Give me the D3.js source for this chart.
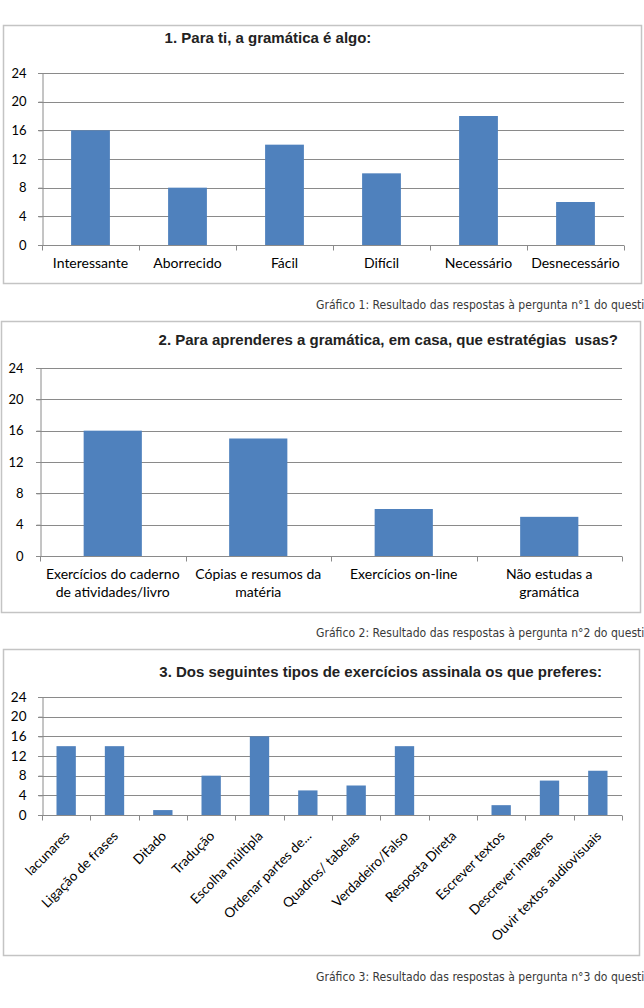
<!DOCTYPE html>
<html><head><meta charset="utf-8">
<script src="https://cdn.jsdelivr.net/npm/d3@7"></script>
<style>
body{margin:0;background:#fff;}
svg{display:block;}
</style></head>
<body>
<svg id="c" width="644" height="1008"></svg>
<script>
// ---- data ----
const title1 = "1. Para ti, a gramática é algo:";
const categories1 = ["Interessante","Aborrecido","Fácil","Difícil","Necessário","Desnecessário"];
const values1 = [16, 8, 14, 10, 18, 6];

const title2 = "2. Para aprenderes a gramática, em casa, que estratégias  usas?";
const categories2 = [["Exercícios do caderno","de atividades/livro"],["Cópias e resumos da","matéria"],["Exercícios on-line"],["Não estudas a","gramática"]];
const values2 = [16, 15, 6, 5];

const title3 = "3. Dos seguintes tipos de exercícios assinala os que preferes:";
const categories3 = ["lacunares","Ligação de frases","Ditado","Tradução","Escolha múltipla","Ordenar partes de...","Quadros/ tabelas","Verdadeiro/Falso","Resposta Direta","Escrever textos","Descrever imagens","Ouvir textos audiovisuais"];
const values3 = [14, 14, 1, 8, 16, 5, 6, 14, 0, 2, 7, 9];

const yTicks = [0, 4, 8, 12, 16, 20, 24];
const captions = [
  "Gráfico 1: Resultado das respostas à pergunta n°1 do questionário",
  "Gráfico 2: Resultado das respostas à pergunta n°2 do questionário",
  "Gráfico 3: Resultado das respostas à pergunta n°3 do questionário"
];

// ---- drawing ----
const svg = d3.select("#c");
const BAR = "#4f81bd", GRID = "#8a8a8a", BORDER = "#c4c4c4";
const LF = "Lato, 'Open Sans', sans-serif";
const TF = "'Liberation Sans', Arial, sans-serif";
const CF = "'Liberation Sans Narrow', 'DejaVu Sans Condensed', sans-serif";

function chart(o){
  const g = svg.append("g");
  g.append("rect").attr("x",o.box[0]+0.5).attr("y",o.box[1]+0.5)
   .attr("width",o.box[2]-o.box[0]).attr("height",o.box[3]-o.box[1])
   .attr("fill","#fff").attr("stroke",BORDER).attr("stroke-width",1.5);
  g.append("text").attr("x",o.titleX).attr("y",o.titleY).attr("text-anchor",o.titleAnchor)
   .attr("font-family",TF).attr("font-weight","bold").attr("font-size",o.titleSize)
   .attr("fill","#222").style("white-space","pre").text(o.title);

  const x = d3.scaleBand().domain(d3.range(o.values.length)).range([o.left,o.right])
    .paddingInner(0.6).paddingOuter(0.3);
  const y = d3.scaleLinear().domain([0,24]).range([o.bottom,o.top]);

  // grid
  g.append("g").selectAll("line").data(yTicks).join("line")
   .attr("x1",o.left-4).attr("x2",o.right).attr("y1",d=>Math.round(y(d))+0.5).attr("y2",d=>Math.round(y(d))+0.5)
   .attr("stroke",GRID).attr("stroke-width",1);
  // y axis via d3
  const ya = g.append("g").attr("transform",`translate(${o.left+0.5},0)`)
   .call(d3.axisLeft(y).tickValues(yTicks).tickSize(4).tickPadding(o.yPad));
  ya.select(".domain").attr("stroke",GRID);
  ya.selectAll(".tick line").attr("stroke",GRID);
  ya.selectAll(".tick text").attr("font-family",LF).attr("font-size",o.ySize).attr("fill","#000");

  // bars
  g.append("g").selectAll("rect").data(o.values).join("rect")
   .attr("x",(d,i)=>x(i)).attr("width",x.bandwidth())
   .attr("y",d=>y(d)).attr("height",d=>y(0)-y(d)).attr("fill",BAR);

  // x axis line and category boundary ticks
  const step = x.step();
  const xb = Math.round(y(0))+0.5;
  g.append("line").attr("x1",o.left).attr("x2",o.right).attr("y1",xb).attr("y2",xb).attr("stroke",GRID);
  g.append("g").selectAll("line").data(d3.range(o.values.length+1)).join("line")
   .attr("x1",i=>Math.round(o.left+i*step)+0.5).attr("x2",i=>Math.round(o.left+i*step)+0.5)
   .attr("y1",xb).attr("y2",xb+5).attr("stroke",GRID);

  // category labels
  const lab = g.append("g").selectAll("text").data(o.categories).join("text")
   .attr("font-family",LF).attr("font-size",o.xSize).attr("fill","#000");
  if(o.rotate){
    lab.attr("text-anchor","end")
     .attr("transform",(d,i)=>`translate(${x(i)+x.bandwidth()/2+1},${xb+18}) rotate(-45)`)
     .attr("dy","0.35em").text(d=>d);
  } else {
    lab.attr("text-anchor","middle").each(function(d,i){
      const lines = Array.isArray(d)?d:[d];
      d3.select(this).selectAll("tspan").data(lines).join("tspan")
        .attr("x",x(i)+x.bandwidth()/2).attr("y",(l,j)=>o.labelY+j*o.lineH).text(l=>l);
    });
  }
}

chart({box:[3,25,641,283], title:title1, titleX:268, titleY:43, titleAnchor:"middle", titleSize:15,
  left:42, right:624, top:73, bottom:245, values:values1, categories:categories1,
  ySize:13, yPad:12, xSize:14, labelY:268, lineH:18});
chart({box:[1,321,640,612], title:title2, titleX:618, titleY:345, titleAnchor:"end", titleSize:15,
  left:40, right:622, top:368, bottom:556, values:values2, categories:categories2,
  ySize:13, yPad:13, xSize:14, labelY:579, lineH:18});
chart({box:[3,649,639,955], title:title3, titleX:602, titleY:677, titleAnchor:"end", titleSize:15,
  left:42, right:622, top:697, bottom:815, values:values3, categories:categories3,
  ySize:13.5, yPad:12, xSize:13.5, rotate:true});

svg.append("g").selectAll("text").data(captions).join("text")
  .attr("transform",(d,i)=>`translate(316,${[309,637,981][i]}) scale(0.93,1)`)
  .attr("font-family",CF).attr("font-size",13).attr("fill","#3a3a3a")
  .text(d=>d);
</script>
</body></html>
